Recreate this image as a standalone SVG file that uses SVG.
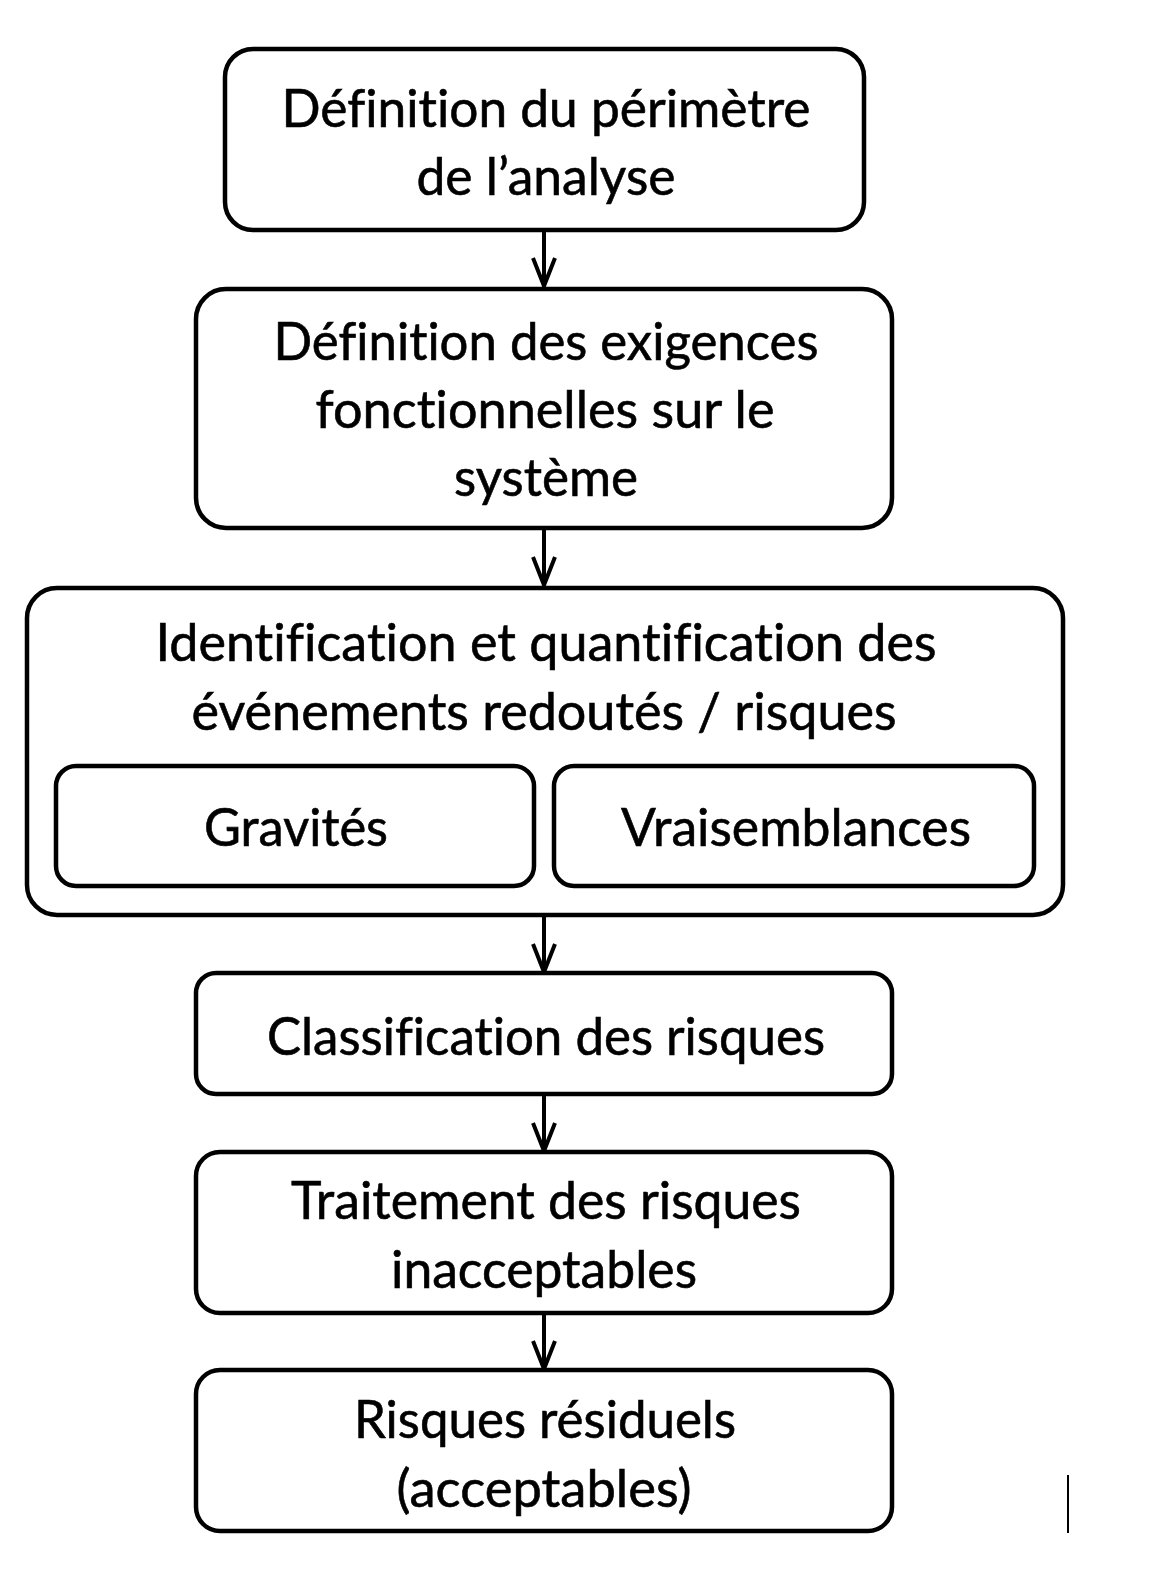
<svg xmlns="http://www.w3.org/2000/svg" width="1160" height="1578" viewBox="0 0 1160 1578">
<style>
.box{fill:#fff;stroke:#000;stroke-width:4.5}
.t{font-family:Lato,"Open Sans","Liberation Sans",sans-serif;font-size:52px;fill:#000;text-anchor:middle;font-variant-ligatures:none;stroke:#000;stroke-width:0.6}
.c{fill:none;stroke:#000;stroke-width:4}
</style>
<rect width="1160" height="1578" fill="#fff"/>
<g id="connectors">
<path class="c" d="M544 230V286M533 258L544 286L555 258"/>
<path class="c" d="M544 528V585M533 557L544 585L555 557"/>
<path class="c" d="M544 915V972M533 944L544 972L555 944"/>
<path class="c" d="M544 1094V1151M533 1123L544 1151L555 1123"/>
<path class="c" d="M544 1313V1369M533 1341L544 1369L555 1341"/>
</g>
<g id="n1">
<rect class="box" x="225" y="49" width="639" height="181" rx="28"/>
<text class="t" x="546" y="127" textLength="529" lengthAdjust="spacingAndGlyphs">Définition du périmètre</text>
<text class="t" x="546" y="195" textLength="259" lengthAdjust="spacingAndGlyphs">de l’analyse</text>
</g>
<g id="n2">
<rect class="box" x="196" y="289" width="696" height="239" rx="30"/>
<text class="t" x="546" y="360" textLength="545" lengthAdjust="spacingAndGlyphs">Définition des exigences</text>
<text class="t" x="545" y="428" textLength="459" lengthAdjust="spacingAndGlyphs">fonctionnelles sur le</text>
<text class="t" x="546" y="496" textLength="184" lengthAdjust="spacingAndGlyphs">système</text>
</g>
<g id="n3">
<rect class="box" x="27" y="588" width="1036" height="327" rx="30"/>
<text class="t" x="546" y="661" textLength="781" lengthAdjust="spacingAndGlyphs">Identification et quantification des</text>
<text class="t" x="544" y="730" textLength="705" lengthAdjust="spacingAndGlyphs">événements redoutés  / risques</text>
</g>
<g id="n3a">
<rect class="box" x="56" y="766" width="478" height="120" rx="20"/>
<text class="t" x="296" y="846" textLength="184" lengthAdjust="spacingAndGlyphs">Gravités</text>
</g>
<g id="n3b">
<rect class="box" x="554" y="766" width="480" height="120" rx="20"/>
<text class="t" x="796" y="846" textLength="350" lengthAdjust="spacingAndGlyphs">Vraisemblances</text>
</g>
<g id="n4">
<rect class="box" x="196" y="973" width="696" height="121" rx="20"/>
<text class="t" x="546" y="1055" textLength="558" lengthAdjust="spacingAndGlyphs">Classification des risques</text>
</g>
<g id="n5">
<rect class="box" x="196" y="1152" width="696" height="161" rx="24"/>
<text class="t" x="546" y="1219" textLength="510" lengthAdjust="spacingAndGlyphs">Traitement des risques</text>
<text class="t" x="544" y="1288" textLength="306" lengthAdjust="spacingAndGlyphs">inacceptables</text>
</g>
<g id="n6">
<rect class="box" x="196" y="1370" width="696" height="161" rx="24"/>
<text class="t" x="545" y="1438" textLength="382" lengthAdjust="spacingAndGlyphs">Risques résiduels</text>
<text class="t" x="544" y="1507" textLength="295" lengthAdjust="spacingAndGlyphs">(acceptables)</text>
</g>
<line x1="1068" y1="1475" x2="1068" y2="1533" stroke="#000" stroke-width="2"/>
</svg>
